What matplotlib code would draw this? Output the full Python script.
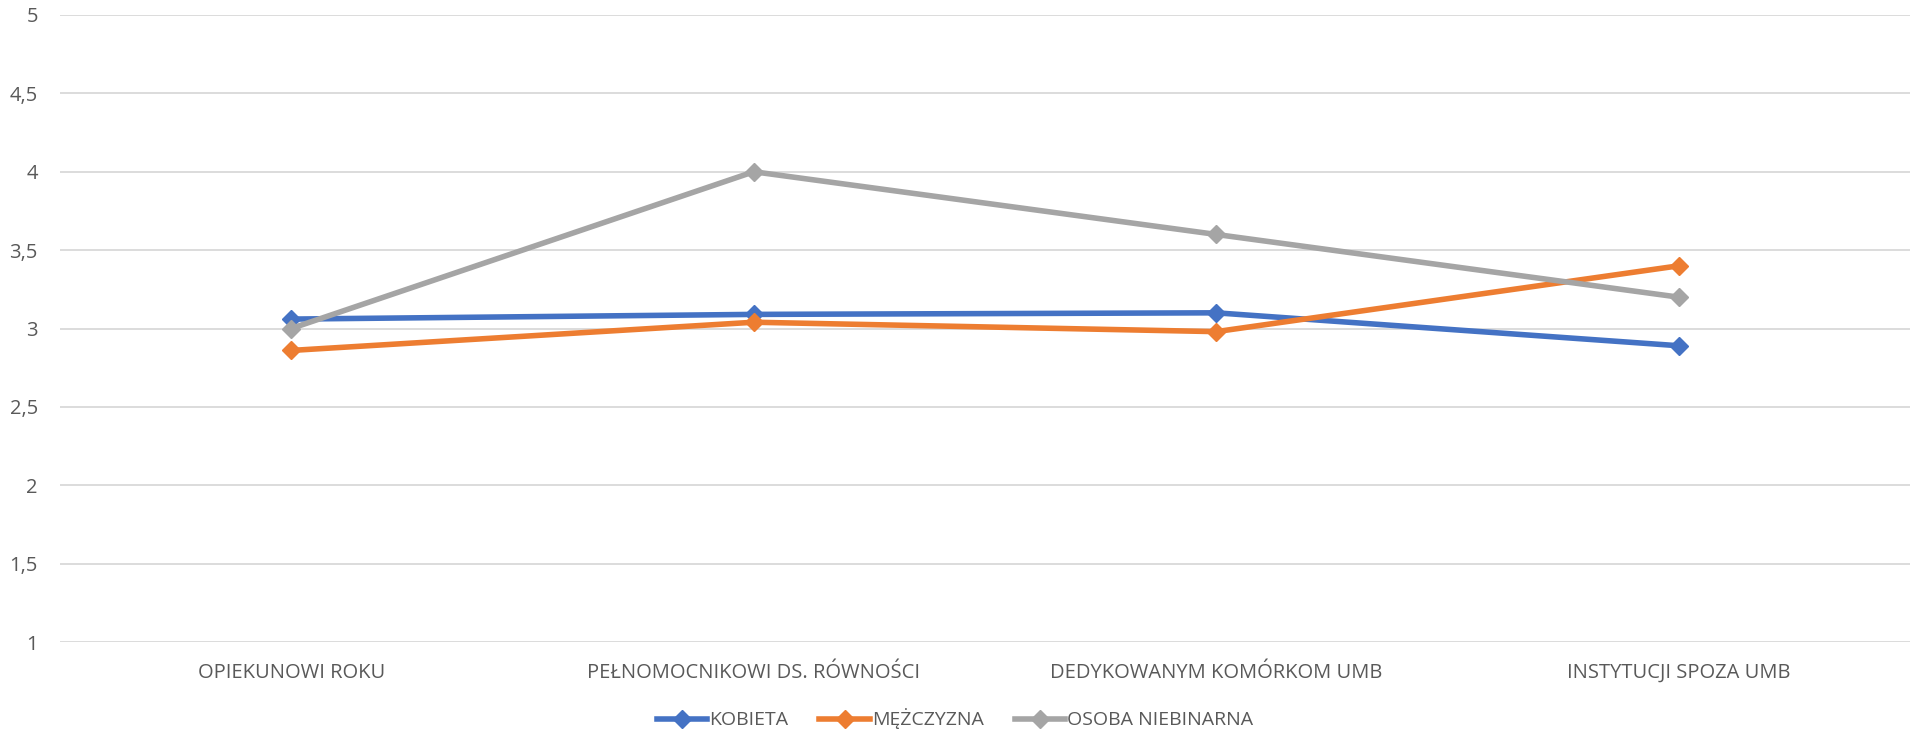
import matplotlib.pyplot as plt
import numpy as np

categories = ['OPIEKUNOWI ROKU', 'PEŁNOMOCNIKOWI DS. RÓWNOŚCI',
              'DEDYKOWANYM KOMÓRKOM UMB', 'INSTYTUCJI SPOZA UMB']
kobieta = [3.06, 3.09, 3.10, 2.89]
mezczyzna = [2.86, 3.04, 2.98, 3.40]
niebinarna = [3.00, 4.00, 3.60, 3.20]
series_names = ['KOBIETA', 'MĘŻCZYZNA', 'OSOBA NIEBINARNA']
colors = ['#4472C4', '#ED7D31', '#A5A5A5']
yticks = [1, 1.5, 2, 2.5, 3, 3.5, 4, 4.5, 5]
ytick_labels = ['1', '1,5', '2', '2,5', '3', '3,5', '4', '4,5', '5']

plt.rcParams['font.family'] = ['Open Sans', 'DejaVu Sans']
txt = '#595959'

fig = plt.figure(figsize=(19.10, 7.35), dpi=100)
ax = fig.add_axes([60 / 1910, 1 - 642 / 735, 1850 / 1910, 627 / 735])

x = np.arange(len(categories))
for vals, name, c in zip([kobieta, mezczyzna, niebinarna], series_names, colors):
    ax.plot(x, vals, color=c, lw=4.0, marker='D', markersize=9, label=name, zorder=3)

ax.set_xlim(-0.5, len(categories) - 0.5)
ax.set_ylim(1, 5)
ax.set_yticks(yticks)
ax.set_yticklabels(ytick_labels, color=txt, fontsize=14.5)
ax.set_xticks(x)
ax.set_xticklabels(categories, color=txt, fontsize=14.5)
ax.tick_params(axis='both', length=0)
ax.tick_params(axis='x', pad=15)
ax.tick_params(axis='y', pad=16)
ax.grid(axis='y', color='#D9D9D9', lw=1.3)
ax.set_axisbelow(True)
for s in ax.spines.values():
    s.set_visible(False)

fig.legend(loc='center', bbox_to_anchor=(0.5, 1 - 719 / 735), ncol=3, frameon=False,
           fontsize=14, labelcolor=txt, handlelength=2.6, handletextpad=0.1,
           columnspacing=1.6)

fig.savefig('out.png', dpi=100)
